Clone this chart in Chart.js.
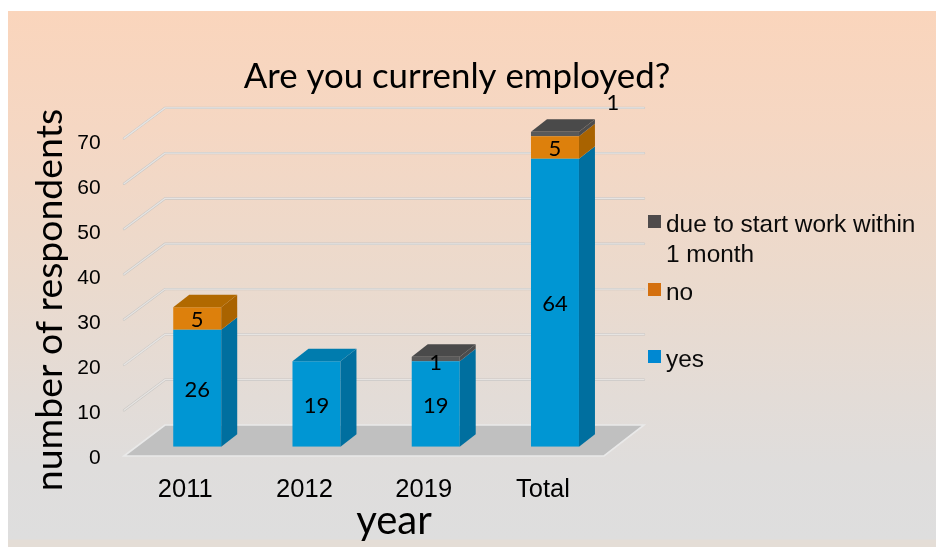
<!DOCTYPE html>
<html><head><meta charset="utf-8">
<script src="https://cdn.jsdelivr.net/npm/chart.js@4"></script>
<style>
html,body{margin:0;padding:0;background:#fff;width:936px;height:547px;overflow:hidden}
#panel{position:absolute;left:8px;top:11px;width:928px;height:536px;
background:linear-gradient(180deg,#fad5bc 0%,#f5d7c3 22%,#ebdacd 50%,#e3dcd7 72%,#dfdddc 85%,#dedede 98.5%,#e4ddd6 98.7%,#e4ddd6 100%)}
#wrap{position:absolute;left:0;top:0;width:936px;height:547px}
</style></head><body>
<div id="panel"></div>
<div id="wrap"><canvas id="c" width="936" height="547"></canvas></div>
<script>
const categories = ["2011","2012","2019","Total"];
const yesValues = [26,19,19,64];
const noValues = [5,null,null,5];
const dueValues = [null,null,1,1];
const seriesNames = ["yes","no","due to start work within 1 month"];
const yTicks = [0,10,20,30,40,50,60,70];
const chartTitle = "Are you currenly employed?";
const xTitle = "year";
const yTitle = "number of respondents";

const faces = [
  {front:"#0096d3",side:"#006f9f",top:"#007cae",legend:"#0088d2"},
  {front:"#dd800c",side:"#a96300",top:"#b16900",legend:"#d4700f"},
  {front:"#595959",side:"#4d4d4d",top:"#4a4a4a",legend:"#4f4b4b"}
];
const DX=16, DY=12.5;
const BLACK="#000";
const ARIAL="'Liberation Sans', Arial, sans-serif";
const CAL="Lato, sans-serif";

const scene = {
  id:"scene",
  beforeDatasetsDraw(chart){
    const {ctx,scales:{y}}=chart;
    const k=45.3/45;
    const y0=y.getPixelForValue(0);
    ctx.save();
    // floor
    const by0=425, fy0=456;
    ctx.beginPath();ctx.moveTo(124,fy0);ctx.lineTo(165,by0);ctx.lineTo(644,by0);ctx.lineTo(604,fy0);ctx.closePath();
    ctx.fillStyle="#c0c0c0";ctx.fill();
    ctx.strokeStyle="#e9e9e9";ctx.lineWidth=1.6;ctx.stroke();
    // walls
    yTicks.forEach(t=>{
      if(t===0)return;
      const d=(y.getPixelForValue(t)-y0)*k;
      const by=by0+d, fy=fy0-0.5+d;
      ctx.lineCap="round";
      ctx.strokeStyle="#c9c6c3";ctx.lineWidth=2.4;
      ctx.beginPath();ctx.moveTo(124,fy);ctx.lineTo(165,by);ctx.lineTo(644,by);ctx.stroke();
      ctx.strokeStyle="#e6e4e2";ctx.lineWidth=1.3;
      ctx.beginPath();ctx.moveTo(124,fy);ctx.lineTo(165,by);ctx.lineTo(644,by);ctx.stroke();
    });
    ctx.restore();
  },
  afterDatasetsDraw(chart){
    const {ctx}=chart;
    ctx.save();
    const n=categories.length;
    for(let i=0;i<n;i++){
      let topSeg=-1;
      chart.data.datasets.forEach((ds,d)=>{
        if(ds.data[i]==null)return;
        topSeg=d;
        const b=chart.getDatasetMeta(d).data[i];
        const xr=b.x+b.width/2;
        ctx.fillStyle=faces[d].side;
        ctx.beginPath();ctx.moveTo(xr,b.y);ctx.lineTo(xr+DX,b.y-DY);ctx.lineTo(xr+DX,b.base-DY);ctx.lineTo(xr,b.base);ctx.closePath();ctx.fill();
      });
      const b=chart.getDatasetMeta(topSeg).data[i];
      const xl=b.x-b.width/2, xr=b.x+b.width/2;
      ctx.fillStyle=faces[topSeg].top;
      ctx.beginPath();ctx.moveTo(xl,b.y);ctx.lineTo(xl+DX,b.y-DY);ctx.lineTo(xr+DX,b.y-DY);ctx.lineTo(xr,b.y);ctx.closePath();ctx.fill();
    }
    // data labels
    ctx.fillStyle=BLACK;ctx.font="22px "+CAL;ctx.textAlign="center";ctx.textBaseline="middle";
    chart.data.datasets.forEach((ds,d)=>{
      chart.getDatasetMeta(d).data.forEach((b,i)=>{
        if(ds.data[i]==null)return;
        let lx=b.x, ly=(b.y+b.base)/2+1.5;
        if(d===2){ if(i===3){lx+=58;ly-=33;} else ly+=2; }
        ctx.fillText(String(ds.data[i]),lx,ly);
      });
    });
    // axis titles
    ctx.font="40px "+CAL;
    ctx.fillText(xTitle,394,521);
    ctx.save();ctx.translate(50,300);ctx.rotate(-Math.PI/2);
    ctx.font="37.4px "+CAL;
    ctx.fillText(yTitle,0,0);ctx.restore();
    // legend
    ctx.textAlign="left";ctx.font="24.4px "+ARIAL;
    const li=[
      {d:2,box:215,lines:[[seriesNames[2].slice(0,24),225],[seriesNames[2].slice(25),255]]},
      {d:1,box:283,lines:[[seriesNames[1],293]]},
      {d:0,box:350,lines:[[seriesNames[0],360]]}
    ];
    li.forEach(e=>{
      ctx.fillStyle=faces[e.d].legend;ctx.fillRect(648,e.box,13,13);
      ctx.fillStyle="#0a0a0a";
      e.lines.forEach(l=>ctx.fillText(l[0],666,l[1]));
    });
    ctx.restore();
  }
};

new Chart(document.getElementById("c"),{
  type:"bar",
  data:{labels:categories,datasets:seriesNames.map((name,i)=>({
    label:name,
    data:[yesValues,noValues,dueValues][i],
    backgroundColor:faces[i].front,
    borderWidth:0,
    categoryPercentage:1,
    barPercentage:48/119.3
  }))},
  options:{
    responsive:false,animation:false,devicePixelRatio:1,
    layout:{padding:{left:0,right:22,top:0,bottom:0}},
    plugins:{
      legend:{display:false},tooltip:{enabled:false},
      title:{display:true,text:chartTitle,color:BLACK,font:{family:"Lato",size:34.8,weight:"normal",lineHeight:1.2},padding:{top:56,bottom:33.9}}
    },
    scales:{
      x:{stacked:true,grid:{display:false},border:{display:false},
        afterFit(s){s.height=100.3;},
        ticks:{color:BLACK,font:{family:"Liberation Sans",size:25.5},padding:20.3,labelOffset:-12,maxRotation:0,autoSkip:false}},
      y:{stacked:true,min:0,max:70,grid:{display:false,drawTicks:false},border:{display:false},
        afterFit(s){s.width=137.6;},
        ticks:{stepSize:10,color:BLACK,font:{family:"Liberation Sans",size:21},padding:37,labelOffset:11.3}},
      right:{position:"right",display:true,grid:{display:false},border:{display:false},ticks:{display:false},
        afterFit(s){s.width=299.4;}}
    }
  },
  plugins:[scene]
});
</script>
</body></html>
